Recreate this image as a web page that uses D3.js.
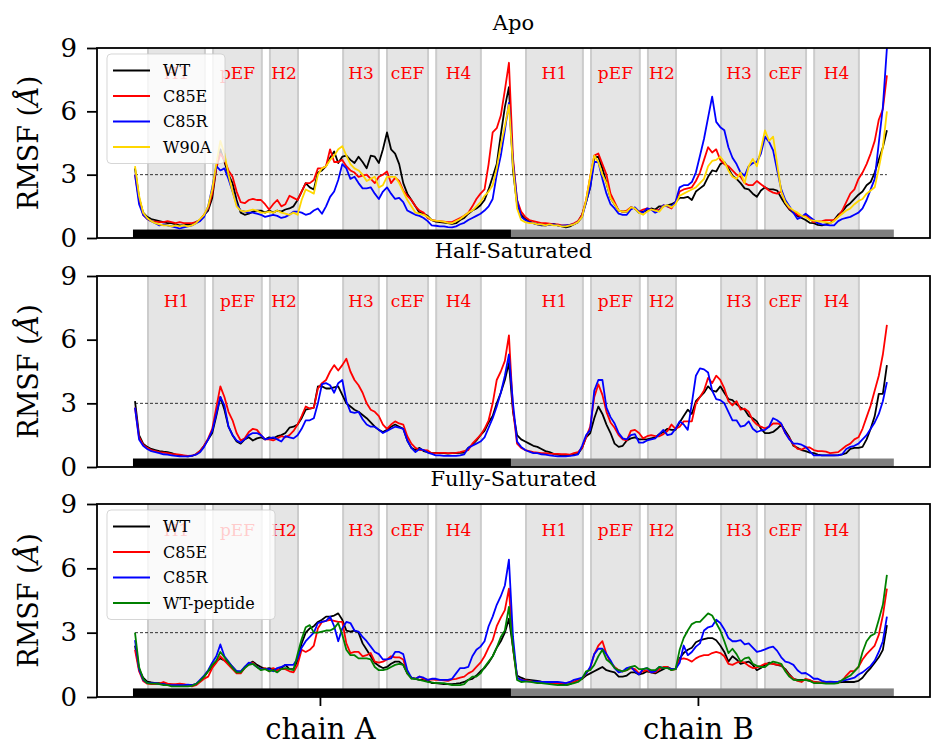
<!DOCTYPE html>
<html>
<head>
<meta charset="utf-8">
<script src="https://cdn.jsdelivr.net/npm/d3@7"></script>
<style>
  body { margin: 0; background: #fff; }
  text { font-family: "DejaVu Serif", serif; }
</style>
</head>
<body>
<script>
// residue index: 1..93 chain A, 94..186 chain B
const residues = d3.range(1, 187)
const chainLen = 93
const chainNames = ['chain A', 'chain B']
const chainTicks = [46.5, 139.5]
const regionNames = ['H1', 'pEF', 'H2', 'H3', 'cEF', 'H4']
const regionStart = [4.2, 20.2, 34.2, 52.2, 63.0, 75.1]
const regionEnd = [18.2, 32.2, 41.1, 61.0, 73.1, 86.1]
const yTicks = [0, 3, 6, 9]
const panelTitles = ['Apo', 'Half-Saturated', 'Fully-Saturated']

// ---- Apo ----
const apoWT = [3.3,1.9,1.2,1.0,0.9,0.85,0.8,0.75,0.7,0.7,
0.65,0.6,0.6,0.65,0.65,0.75,0.85,1.1,1.3,1.9,
3.3,4.2,3.6,3.0,2.6,1.8,1.2,1.1,1.15,1.25,
1.3,1.3,1.2,1.3,1.2,1.3,1.25,1.35,1.4,1.5,
1.8,2.2,2.6,2.4,2.3,3.1,3.2,3.4,3.8,4.1,
3.55,3.85,3.9,3.7,3.55,3.85,3.6,3.3,3.9,3.85,
3.55,4.2,5.0,4.2,4.0,3.5,2.6,2.1,1.8,1.5,
1.2,1.15,1.05,0.85,0.78,0.75,0.73,0.7,0.67,0.7,
0.85,0.95,1.15,1.3,1.4,1.55,1.8,2.3,2.9,3.5,
4.9,6.2,7.15,
3.2,1.6,1.1,0.9,0.8,0.7,0.65,0.6,0.6,0.62,
0.67,0.6,0.55,0.5,0.55,0.65,0.75,1.1,1.7,2.4,
3.8,3.85,3.3,2.6,1.9,1.6,1.3,1.25,1.25,1.45,
1.4,1.2,1.25,1.3,1.4,1.35,1.5,1.5,1.55,1.6,
1.7,1.9,1.9,1.95,1.8,2.2,2.35,2.5,2.9,3.2,
3.15,3.5,3.6,3.3,2.95,2.8,2.6,2.35,2.3,2.1,
1.95,2.25,2.4,2.3,2.3,2.25,1.9,1.6,1.35,1.2,
1.05,0.95,0.85,0.72,0.7,0.62,0.6,0.65,0.7,0.85,
1.1,1.25,1.5,1.65,1.85,2.05,2.2,2.5,2.65,3.1,
3.7,4.3,5.1]
const apoC85E = [3.0,1.8,1.1,0.9,0.8,0.78,0.75,0.75,0.8,0.75,
0.7,0.75,0.7,0.7,0.7,0.75,0.85,1.1,1.4,2.1,
3.3,4.0,3.7,3.2,2.9,2.2,1.7,1.65,1.8,1.85,
1.8,1.8,1.6,1.35,1.6,1.8,1.5,1.6,2.0,1.9,
1.8,2.2,2.6,2.6,2.75,3.3,3.3,3.4,4.2,3.6,
3.6,3.7,3.4,3.2,3.1,2.9,2.95,3.0,2.8,2.6,
2.9,3.0,3.15,2.6,2.85,2.7,2.25,2.0,1.8,1.5,
1.3,1.2,0.95,0.85,0.82,0.8,0.78,0.75,0.75,0.85,
0.95,1.05,1.2,1.5,1.85,2.1,2.3,3.5,5.0,5.2,
5.8,7.0,8.3,
3.8,1.8,1.25,1.0,0.85,0.8,0.75,0.7,0.7,0.68,
0.65,0.65,0.6,0.6,0.62,0.7,0.8,1.1,1.8,2.9,
3.9,4.0,3.5,3.0,2.1,1.7,1.3,1.25,1.3,1.45,
1.4,1.25,1.35,1.4,1.35,1.3,1.35,1.55,1.5,1.4,
1.7,2.2,2.3,2.35,2.4,2.7,3.1,3.7,4.3,4.05,
4.2,3.7,3.5,3.4,3.2,3.0,2.9,2.6,2.5,2.5,
2.7,2.55,2.4,2.25,2.15,2.1,2.2,1.7,1.4,1.25,
1.1,1.0,1.1,0.9,0.75,0.78,0.8,0.85,0.85,0.85,
1.0,1.3,1.7,2.1,2.3,2.8,3.1,3.5,4.0,4.6,
5.6,6.1,7.7]
const apoC85R = [3.0,1.6,1.1,0.9,0.8,0.7,0.6,0.65,0.6,0.55,
0.5,0.45,0.5,0.55,0.6,0.7,0.8,1.0,1.5,2.4,
3.4,3.2,3.3,2.8,2.2,1.6,1.3,1.25,1.2,1.2,
1.15,1.1,1.0,1.05,1.1,1.05,0.95,1.0,1.1,1.25,
1.25,1.2,1.1,1.15,1.3,1.4,1.15,1.5,1.95,2.2,
2.75,3.5,3.3,2.8,2.9,2.6,2.35,2.35,2.4,2.1,
1.85,2.2,2.4,2.1,1.85,1.9,1.7,1.3,1.2,1.1,
1.05,0.95,0.8,0.6,0.58,0.55,0.55,0.52,0.5,0.55,
0.65,0.72,0.85,0.95,1.05,1.15,1.3,1.5,1.85,3.0,
3.9,5.1,6.4,
3.6,1.8,1.0,0.85,0.75,0.7,0.65,0.62,0.6,0.62,
0.65,0.6,0.58,0.6,0.62,0.65,0.75,1.0,1.7,2.4,
3.6,3.6,2.8,2.1,1.6,1.4,1.15,1.1,1.1,1.35,
1.45,1.25,1.2,1.4,1.35,1.2,1.3,1.55,1.5,1.5,
1.7,2.4,2.5,2.5,2.65,3.1,3.9,4.7,5.7,6.7,
5.5,5.25,5.1,4.3,3.8,3.5,3.1,2.95,3.4,3.55,
3.6,4.0,4.8,4.55,4.15,3.2,2.3,1.8,1.5,1.2,
0.9,1.0,1.15,1.0,0.85,0.7,0.65,0.62,0.6,0.6,
0.8,0.9,0.95,1.0,1.1,1.2,1.4,1.8,2.3,2.8,
4.5,6.2,9.0]
const apoW90A = [3.4,2.0,1.2,0.95,0.8,0.7,0.65,0.6,0.6,0.55,
0.6,0.55,0.6,0.55,0.6,0.7,0.9,1.1,1.5,2.3,
3.5,4.6,4.0,3.0,2.2,1.5,1.3,1.25,1.3,1.35,
1.3,1.2,1.2,1.25,1.2,1.3,1.2,1.15,1.1,1.2,
1.1,1.8,2.3,2.2,2.1,3.0,3.3,3.4,3.7,3.9,
4.2,4.35,3.9,3.5,3.3,3.2,3.0,2.7,2.8,2.9,
2.4,2.5,2.9,2.9,2.9,2.6,2.2,1.8,1.5,1.2,
1.15,1.1,1.0,0.85,0.82,0.8,0.78,0.72,0.7,0.8,
0.9,1.05,1.2,1.3,1.5,1.7,2.0,2.2,2.5,3.3,
4.4,5.3,6.3,
3.4,1.4,0.85,0.75,0.7,0.7,0.65,0.65,0.6,0.65,
0.6,0.6,0.55,0.55,0.6,0.65,0.75,1.0,1.8,2.9,
3.9,3.6,3.0,2.6,1.9,1.6,1.3,1.25,1.25,1.45,
1.4,1.2,1.1,1.25,1.35,1.3,1.25,1.5,1.55,1.45,
1.6,2.0,2.1,2.2,2.3,2.4,2.6,2.8,3.4,3.65,
3.7,3.85,3.6,3.2,2.9,2.8,3.1,2.6,3.4,3.75,
3.4,4.2,5.1,4.6,4.8,3.5,2.2,1.7,1.45,1.3,
1.2,1.05,1.0,0.85,0.82,0.8,0.78,0.75,0.7,0.8,
1.0,1.15,1.3,1.4,1.6,1.75,1.85,2.1,2.25,2.4,
3.3,4.3,6.0]

// ---- Half-Saturated ----
const halfWT = [3.1,1.5,1.1,0.95,0.85,0.8,0.75,0.72,0.7,0.65,
0.58,0.55,0.52,0.5,0.52,0.6,0.75,1.0,1.3,1.6,
2.4,3.3,2.7,1.9,1.5,1.2,1.1,1.3,1.4,1.25,
1.35,1.4,1.3,1.4,1.35,1.45,1.5,1.6,1.85,1.9,
2.0,2.3,2.7,2.75,2.8,3.8,3.8,3.7,3.7,3.75,
3.8,3.4,3.0,2.85,2.7,2.6,2.45,2.3,2.1,1.9,
1.75,1.65,1.75,1.9,2.0,1.9,1.8,1.25,0.9,0.8,
0.9,0.75,0.7,0.65,0.67,0.65,0.65,0.63,0.65,0.65,
0.67,0.68,0.9,1.05,1.25,1.5,1.7,2.1,2.4,3.0,
3.5,4.1,4.9,
2.6,1.5,1.3,1.2,1.1,1.0,0.95,0.85,0.75,0.7,
0.62,0.58,0.55,0.55,0.55,0.6,0.62,0.9,1.4,1.6,
2.3,2.85,2.5,2.0,1.6,1.1,0.95,1.0,1.25,1.35,
1.4,1.3,1.3,1.3,1.35,1.4,1.55,1.65,1.8,1.75,
1.75,2.1,2.4,2.7,2.5,3.1,3.3,3.5,3.8,3.6,
3.55,3.8,3.5,3.2,3.15,2.95,2.8,2.7,2.4,2.3,
2.15,1.8,1.6,1.6,1.65,1.8,2.0,1.7,1.4,1.0,
0.9,0.8,0.75,0.68,0.65,0.58,0.55,0.55,0.55,0.55,
0.56,0.6,0.65,0.85,0.9,0.9,0.95,1.3,1.8,2.4,
3.45,3.45,4.8]
const halfC85E = [2.8,1.4,1.05,0.9,0.8,0.75,0.7,0.68,0.65,0.62,
0.6,0.58,0.55,0.52,0.53,0.6,0.75,1.0,1.35,1.8,
2.8,3.8,3.3,2.6,2.2,1.6,1.25,1.35,1.65,1.8,
1.75,1.5,1.3,1.3,1.25,1.35,1.45,1.4,1.5,1.7,
2.0,2.4,2.85,2.75,2.8,3.7,3.95,4.1,4.5,4.8,
4.55,4.8,5.1,4.5,4.1,3.85,3.5,3.0,2.7,2.6,
2.4,2.0,1.8,2.0,2.15,2.05,2.0,1.45,1.1,0.9,
0.8,0.8,0.78,0.65,0.65,0.67,0.67,0.65,0.65,0.67,
0.7,0.75,0.8,1.1,1.3,1.5,1.8,2.2,3.0,4.1,
4.5,5.0,6.2,
2.7,1.1,0.9,0.8,0.75,0.7,0.68,0.65,0.65,0.63,
0.62,0.62,0.6,0.6,0.58,0.65,0.7,0.9,1.4,1.9,
3.3,3.9,3.4,2.6,2.1,1.85,1.5,1.3,1.25,1.7,
1.75,1.6,1.35,1.45,1.5,1.45,1.45,1.55,1.7,2.0,
1.8,1.9,2.15,2.15,2.15,3.0,3.3,3.6,4.2,3.95,
4.3,4.1,3.7,3.1,2.9,3.1,2.7,2.75,2.6,2.2,
2.0,1.9,1.82,1.9,2.05,2.05,2.0,1.6,1.35,1.05,
0.85,0.82,0.92,0.92,0.8,0.75,0.75,0.72,0.65,0.68,
0.7,0.85,1.0,1.1,1.3,1.4,1.8,2.35,2.9,3.6,
4.3,5.3,6.7]
const halfC85R = [2.8,1.3,1.0,0.85,0.75,0.7,0.65,0.6,0.58,0.55,
0.52,0.5,0.5,0.5,0.53,0.58,0.7,0.95,1.3,1.7,
2.5,3.3,2.9,1.9,1.5,1.25,1.15,1.3,1.5,1.6,
1.6,1.5,1.3,1.35,1.4,1.3,1.2,1.45,1.4,1.35,
1.5,1.8,2.2,2.2,2.3,3.0,3.9,3.95,3.85,3.5,
3.95,4.1,3.1,2.6,2.55,2.6,2.25,2.0,1.9,1.9,
1.75,1.6,1.7,1.8,1.9,1.85,1.8,1.25,0.9,0.7,
0.85,0.8,0.68,0.62,0.55,0.55,0.52,0.52,0.52,0.52,
0.55,0.6,0.9,1.0,1.1,1.2,1.4,1.85,2.3,2.85,
3.5,4.3,5.3,
3.0,1.2,0.95,0.8,0.72,0.65,0.65,0.6,0.58,0.55,
0.52,0.5,0.5,0.5,0.52,0.55,0.6,1.0,1.5,1.75,
3.6,4.1,4.1,2.8,2.35,2.05,1.6,1.35,1.3,1.5,
1.55,1.15,1.15,1.25,1.3,1.35,1.55,1.75,1.5,1.55,
1.8,2.15,2.0,1.75,3.0,4.3,4.65,4.6,4.45,3.6,
3.2,3.15,3.0,2.6,2.2,2.2,1.9,1.95,2.15,1.8,
1.65,1.72,1.75,1.9,2.3,2.2,2.05,1.6,1.3,1.1,
1.1,1.05,0.95,0.75,0.55,0.55,0.55,0.55,0.55,0.55,
0.55,0.6,0.85,0.95,1.0,1.1,1.3,1.5,1.8,2.1,
2.5,3.1,4.0]

// ---- Fully-Saturated ----
const fullWT = [2.4,1.3,0.9,0.72,0.68,0.65,0.65,0.6,0.6,0.58,
0.55,0.55,0.55,0.55,0.55,0.6,0.75,0.95,1.2,1.4,
1.65,1.8,1.7,1.6,1.4,1.2,1.15,1.4,1.55,1.65,
1.5,1.4,1.3,1.35,1.3,1.25,1.35,1.5,1.3,1.3,
1.7,2.5,3.0,3.2,3.3,3.5,3.6,3.75,3.75,3.8,
3.9,3.6,3.1,3.05,3.1,3.0,2.5,2.2,1.9,1.6,
1.45,1.35,1.4,1.55,1.65,1.65,1.5,1.1,0.9,0.85,
0.8,0.8,0.78,0.65,0.65,0.63,0.6,0.6,0.6,0.62,
0.65,0.7,0.8,0.85,1.0,1.2,1.35,1.6,1.9,2.3,
2.6,3.0,3.65,
2.3,1.0,0.9,0.82,0.8,0.78,0.75,0.72,0.7,0.68,
0.65,0.62,0.58,0.55,0.6,0.7,0.8,0.85,1.0,1.1,
1.2,1.3,1.4,1.25,1.2,1.15,0.95,0.95,1.0,1.15,
1.15,1.05,1.1,1.2,1.15,1.1,1.2,1.3,1.4,1.3,
1.3,1.8,2.05,2.2,2.3,2.55,2.65,2.7,2.75,2.75,
2.65,2.4,2.1,1.65,1.9,1.75,1.55,1.6,1.65,1.5,
1.25,1.35,1.5,1.6,1.55,1.5,1.45,1.3,1.05,0.85,
0.8,0.8,0.8,0.75,0.7,0.68,0.65,0.65,0.65,0.65,
0.68,0.7,0.7,0.7,0.7,0.75,0.9,1.15,1.35,1.6,
1.85,2.2,3.35]
const fullC85E = [2.2,1.2,0.75,0.62,0.6,0.6,0.62,0.7,0.62,0.6,
0.6,0.62,0.6,0.55,0.5,0.55,0.7,0.85,0.95,1.35,
1.6,1.9,1.7,1.5,1.3,1.1,1.1,1.35,1.55,1.6,
1.4,1.3,1.35,1.2,1.35,1.25,1.3,1.3,1.2,1.15,
1.5,2.2,2.1,2.2,2.4,3.2,3.5,3.55,3.6,3.55,
3.5,3.5,2.5,2.05,2.1,2.1,1.9,1.95,2.05,1.65,
1.6,1.65,1.75,1.9,1.85,1.85,1.75,1.1,0.9,0.85,
0.95,0.85,0.8,0.82,0.8,0.8,0.78,0.75,0.82,0.85,
0.9,0.95,1.1,1.2,1.4,1.6,1.9,2.3,2.65,3.3,
3.7,4.05,5.05,
2.3,0.9,0.8,0.78,0.75,0.7,0.68,0.65,0.65,0.65,
0.65,0.65,0.65,0.65,0.68,0.7,0.8,0.85,1.1,1.35,
2.0,2.4,2.6,2.0,1.6,1.4,1.25,1.2,1.25,1.35,
1.3,1.1,1.2,1.25,1.15,1.15,1.3,1.4,1.4,1.25,
1.3,1.75,1.8,1.75,1.65,1.8,1.9,1.95,1.95,2.05,
2.1,2.05,1.9,1.55,1.5,1.6,1.65,1.6,1.45,1.35,
1.38,1.45,1.55,1.55,1.55,1.5,1.5,1.25,1.0,0.85,
0.75,0.7,0.85,0.8,0.7,0.68,0.68,0.68,0.68,0.7,
0.7,0.75,1.0,1.2,1.22,1.4,1.75,2.0,2.2,2.4,
2.9,3.8,5.05]
const fullC85R = [2.65,1.3,0.8,0.65,0.65,0.65,0.6,0.6,0.55,0.55,
0.55,0.55,0.55,0.58,0.55,0.6,0.8,1.0,1.25,1.6,
1.9,2.45,1.9,1.65,1.4,1.2,1.2,1.4,1.6,1.55,
1.4,1.3,1.3,1.3,1.2,1.35,1.4,1.5,1.5,1.5,
1.8,2.3,2.6,2.8,3.0,3.45,3.5,3.55,3.75,3.3,
2.6,3.2,3.5,3.45,3.1,3.05,2.8,2.6,2.35,2.1,
2.0,1.75,1.75,1.8,2.1,2.1,2.0,1.25,0.9,0.85,
0.95,0.9,0.8,0.85,0.85,0.8,0.8,0.8,0.85,1.1,
1.35,1.35,1.4,1.9,2.2,2.35,2.6,3.3,3.75,4.3,
4.7,5.2,6.4,
2.8,0.9,0.8,0.75,0.72,0.72,0.72,0.7,0.7,0.7,
0.7,0.7,0.68,0.65,0.7,0.8,0.85,0.9,1.1,1.4,
2.0,2.25,2.25,2.0,1.7,1.35,1.15,1.2,1.35,1.4,
1.2,1.05,1.3,1.35,1.15,1.2,1.4,1.35,1.35,1.3,
1.3,1.6,2.4,1.95,2.1,2.35,2.5,3.1,3.25,3.3,
3.6,3.45,3.15,2.75,2.6,2.6,2.65,2.45,2.5,2.3,
2.1,2.15,2.22,2.3,2.35,2.15,1.85,1.65,1.6,1.5,
1.25,1.1,1.12,1.0,0.85,0.85,0.75,0.7,0.72,0.7,
0.72,0.75,0.8,0.85,0.9,1.05,1.15,1.3,1.45,1.7,
2.1,2.6,3.75]
const fullWTpep = [3.0,1.4,0.85,0.65,0.62,0.62,0.6,0.55,0.55,0.5,
0.5,0.5,0.5,0.5,0.52,0.6,0.75,0.95,1.2,1.5,
1.7,2.1,1.85,1.6,1.35,1.15,1.15,1.35,1.5,1.55,
1.4,1.25,1.3,1.2,1.25,1.15,1.3,1.35,1.3,1.25,
2.0,2.7,3.25,3.35,3.0,3.0,3.05,3.1,3.1,3.2,
3.45,2.9,2.2,1.95,1.95,1.8,1.8,1.8,1.75,1.4,
1.25,1.25,1.3,1.4,1.5,1.55,1.5,1.1,0.85,0.85,
0.8,0.75,0.7,0.68,0.65,0.65,0.65,0.6,0.55,0.55,
0.55,0.6,0.8,0.95,0.95,1.1,1.4,1.65,1.9,2.3,
2.8,3.1,4.2,
2.3,0.8,0.7,0.72,0.72,0.68,0.65,0.65,0.62,0.6,
0.58,0.55,0.55,0.55,0.6,0.65,0.7,0.85,1.2,1.25,
1.5,1.9,2.2,1.75,1.6,1.35,1.25,1.2,1.25,1.4,
1.45,1.3,1.3,1.35,1.25,1.25,1.4,1.35,1.35,1.25,
1.3,2.2,2.75,3.1,3.4,3.5,3.5,3.7,3.9,3.8,
3.45,3.1,2.6,2.05,2.25,2.0,1.65,1.8,1.85,1.55,
1.45,1.4,1.4,1.55,1.65,1.6,1.55,1.2,0.95,0.8,
0.78,0.78,0.8,0.75,0.65,0.65,0.65,0.62,0.62,0.62,
0.65,0.8,0.9,1.0,1.2,1.4,2.1,2.6,2.85,2.95,
3.6,4.3,5.7]

const panels = [
  {title: panelTitles[0], legend: true, series: [
    {name: 'WT', color: '#000000', values: apoWT},
    {name: 'C85E', color: '#ff0000', values: apoC85E},
    {name: 'C85R', color: '#0000ff', values: apoC85R},
    {name: 'W90A', color: '#ffd700', values: apoW90A}]},
  {title: panelTitles[1], legend: false, series: [
    {name: 'WT', color: '#000000', values: halfWT},
    {name: 'C85E', color: '#ff0000', values: halfC85E},
    {name: 'C85R', color: '#0000ff', values: halfC85R}]},
  {title: panelTitles[2], legend: true, series: [
    {name: 'WT', color: '#000000', values: fullWT},
    {name: 'C85E', color: '#ff0000', values: fullC85E},
    {name: 'C85R', color: '#0000ff', values: fullC85R},
    {name: 'WT-peptide', color: '#008000', values: fullWTpep}]}
]

const width = 932, height = 750
const left = 97, right = 930
const tops = [48, 276, 504], bottoms = [238, 467, 697]

const svg = d3.select('body').append('svg')
  .attr('width', width)
  .attr('height', height)
  .style('background', '#fff')

const x = d3.scaleLinear()
  .domain([-8.35, 196.6])
  .range([left, right])

panels.forEach((p, k) => {
  const top = tops[k], bottom = bottoms[k]
  const y = d3.scaleLinear().domain([0, 9]).range([bottom, top])
  const g = svg.append('g')

  g.append('clipPath').attr('id', 'clip' + k)
    .append('rect')
    .attr('x', left).attr('y', top)
    .attr('width', right - left).attr('height', bottom - top)

  const plot = g.append('g').attr('clip-path', `url(#clip${k})`)

  // helix / EF-hand regions on both chains
  const spans = []
  ;[0, chainLen].forEach(off => regionNames.forEach((n, i) => {
    spans.push({name: n, x0: regionStart[i] + off, x1: regionEnd[i] + off})
  }))
  plot.selectAll('.span').data(spans).enter()
    .append('rect')
    .attr('x', d => x(d.x0))
    .attr('width', d => x(d.x1) - x(d.x0))
    .attr('y', top).attr('height', bottom - top)
    .attr('fill', '#e5e5e5')
  plot.selectAll('.edge').data(spans.flatMap(d => [d.x0, d.x1])).enter()
    .append('line')
    .attr('x1', d => x(d)).attr('x2', d => x(d))
    .attr('y1', top).attr('y2', bottom)
    .attr('stroke', '#cccccc').attr('stroke-width', 2)
  plot.selectAll('.lab').data(spans).enter()
    .append('text')
    .attr('x', d => x((d.x0 + d.x1) / 2))
    .attr('y', y(7.8))
    .attr('dy', '0.35em')
    .attr('text-anchor', 'middle')
    .attr('fill', '#ff0000')
    .attr('font-size', 17)
    .text(d => d.name)

  // 3 A threshold
  plot.append('line')
    .attr('x1', x(residues[0])).attr('x2', x(residues[residues.length - 1]))
    .attr('y1', y(3)).attr('y2', y(3))
    .attr('stroke', '#000').attr('stroke-width', 0.8)
    .attr('stroke-dasharray', '3,2')

  // chain bars
  const bars = [{x0: 0.5, x1: chainLen + 0.5, c: '#000000'},
                {x0: chainLen + 0.5, x1: 187.7, c: '#808080'}]
  plot.selectAll('.bar').data(bars).enter()
    .append('rect')
    .attr('x', d => x(d.x0)).attr('width', d => x(d.x1) - x(d.x0))
    .attr('y', y(0.4)).attr('height', y(0) - y(0.4))
    .attr('fill', d => d.c)

  const line = d3.line()
    .x((d, i) => x(residues[i]))
    .y(d => y(d))
  p.series.forEach(s => {
    plot.append('path')
      .datum(s.values)
      .attr('d', line)
      .attr('fill', 'none')
      .attr('stroke', s.color)
      .attr('stroke-width', 1.8)
      .attr('stroke-linejoin', 'round')
  })

  // frame
  g.append('rect')
    .attr('x', left).attr('y', top)
    .attr('width', right - left).attr('height', bottom - top)
    .attr('fill', 'none').attr('stroke', '#000').attr('stroke-width', 1.8)

  // y axis
  const yAxis = g.append('g')
    .attr('transform', `translate(${left},0)`)
    .call(d3.axisLeft(y).tickValues(yTicks).tickSize(10).tickPadding(10))
  yAxis.select('.domain').remove()
  yAxis.selectAll('line').attr('stroke-width', 1.8)
  yAxis.selectAll('text')
    .attr('font-family', '"DejaVu Serif", serif')
    .attr('font-size', 26).attr('fill', '#000')

  const yl = g.append('text')
    .attr('transform', `translate(38,${(top + bottom) / 2}) rotate(-90)`)
    .attr('text-anchor', 'middle')
    .attr('font-size', 27)
  yl.append('tspan').text('RMSF (')
  yl.append('tspan').attr('font-style', 'italic').text('Å')
  yl.append('tspan').text(')')

  g.append('text')
    .attr('x', (left + right) / 2).attr('y', top - 18)
    .attr('text-anchor', 'middle')
    .attr('font-size', 21)
    .text(p.title)

  if (p.legend) {
    const lg = g.append('g').attr('transform', `translate(107,${top + 6})`)
    const lw = k === 0 ? 118 : 168
    lg.append('rect')
      .attr('width', lw).attr('height', 33 + 25.5 * (p.series.length - 1))
      .attr('rx', 4)
      .attr('fill', '#fff').attr('fill-opacity', 0.8)
      .attr('stroke', '#cccccc').attr('stroke-opacity', 0.8)
    p.series.forEach((s, i) => {
      const yy = 16.5 + i * 25.5
      lg.append('line')
        .attr('x1', 6).attr('x2', 43).attr('y1', yy).attr('y2', yy)
        .attr('stroke', s.color).attr('stroke-width', 1.8)
      lg.append('text')
        .attr('x', 56).attr('y', yy).attr('dy', '0.35em')
        .attr('font-size', 16)
        .text(s.name)
    })
  }

  if (k === 2) {
    const xAxis = g.append('g')
      .attr('transform', `translate(0,${bottom})`)
      .call(d3.axisBottom(x).tickValues(chainTicks)
        .tickFormat((d, i) => chainNames[i]).tickSize(9).tickPadding(12))
    xAxis.select('.domain').remove()
    xAxis.selectAll('line').attr('stroke-width', 1.8)
    xAxis.selectAll('text')
      .attr('font-family', '"DejaVu Serif", serif')
      .attr('font-size', 29).attr('fill', '#000')
  }
})
</script>
</body>
</html>
